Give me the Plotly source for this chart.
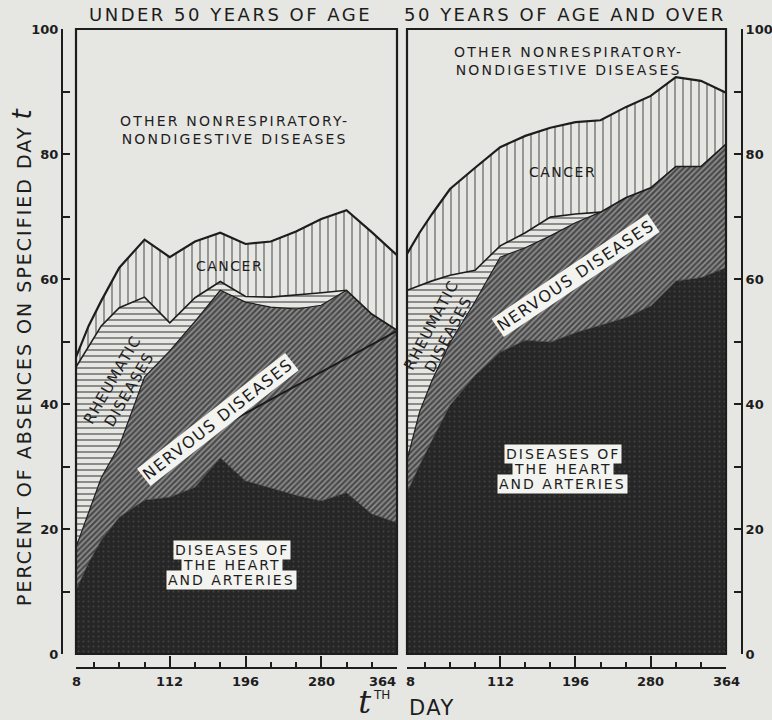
import plotly.graph_objects as go

# ---------------------------------------------------------------------------
# Data: percent of absences on specified day t, stacked by cause of disability
# ---------------------------------------------------------------------------
days = [8, 22, 36, 56, 84, 112, 140, 168, 196, 224, 252, 280, 308, 336, 364]

# Under 50 years of age
under50_heart = [10.2, 14.6, 18.2, 21.9, 24.6, 25.1, 26.7, 31.4, 27.7, 26.6, 25.4, 24.5, 25.8, 22.4, 21.0]
under50_nervous = [6.9, 8.1, 10.0, 11.4, 19.7, 23.4, 26.5, 26.8, 28.6, 28.9, 29.8, 31.3, 32.4, 32.0, 30.8]
under50_rheumatic = [28.8, 26.4, 24.3, 22.1, 12.8, 4.5, 3.8, 1.4, 0.9, 1.6, 2.2, 2.0, 0.0, 0.0, 0.0]
under50_cancer = [1.6, 3.4, 4.0, 6.4, 9.2, 10.5, 9.0, 7.8, 8.4, 8.9, 10.2, 11.8, 12.8, 13.1, 12.0]

# 50 years of age and over
over50_heart = [25.8, 30.2, 34.2, 39.8, 44.6, 48.3, 50.2, 49.9, 51.4, 52.6, 53.8, 55.7, 59.7, 60.2, 61.8]
over50_nervous = [5.2, 8.5, 9.6, 10.0, 11.8, 15.2, 14.8, 17.0, 17.6, 18.1, 19.2, 18.9, 18.3, 17.8, 19.8]
over50_rheumatic = [27.2, 20.3, 15.9, 10.8, 5.0, 1.8, 2.4, 3.0, 1.4, 0.0, 0.0, 0.0, 0.0, 0.0, 0.0]
over50_cancer = [5.8, 8.4, 10.7, 13.8, 16.4, 15.8, 15.5, 14.3, 14.7, 14.7, 14.5, 14.7, 14.3, 13.7, 8.2]

# Dividing line drawn through the nervous-diseases band (under 50 panel)
nervous_divider_days = [90, 364]
nervous_divider_vals = [30.2, 51.7]

causes = ["heart", "nervous", "rheumatic", "cancer"]
x_major = [8, 112, 196, 280, 364]
x_minor = [28, 56, 84, 140, 168, 224, 252, 308, 336]
y_major = [0, 20, 40, 60, 80, 100]
y_minor = [10, 30, 50, 70, 90]

panel_titles = ["UNDER 50 YEARS OF AGE", "50 YEARS OF AGE AND OVER"]

# ---------------------------------------------------------------------------
W, H = 772, 720
PAPER = "#e6e6e3"
INK = "#1d1d1d"
FONT = "DejaVu Sans"


def fx(px):
    return px / W


def fy(py):
    return 1 - py / H


def spaced(text, ls):
    """Widen the lettering of each line of a label."""
    return "<br>".join(
        f"<span style='letter-spacing:{ls}px'>{line}</span>" for line in text.split("<br>")
    )


styles = {
    "heart": dict(
        fillpattern=dict(shape=".", fgcolor="#5e5e5e", bgcolor="#262626", size=5, solidity=0.12),
        fillcolor="#262626",
        line=dict(width=0.6, color="#262626"),
    ),
    "nervous": dict(
        fillpattern=dict(shape="/", fgcolor="#dadada", bgcolor="#4a4a4a", size=4, solidity=0.38),
        fillcolor="#707070",
        line=dict(width=1.2, color=INK),
    ),
    "rheumatic": dict(
        fillpattern=dict(shape="-", fgcolor=INK, bgcolor=PAPER, size=6, solidity=0.3),
        fillcolor=PAPER,
        line=dict(width=1.6, color=INK),
    ),
    "cancer": dict(
        fillpattern=dict(shape="|", fgcolor=INK, bgcolor=PAPER, size=8, solidity=0.2),
        fillcolor=PAPER,
        line=dict(width=2.2, color=INK),
    ),
}

panels = [
    dict(xa="x", ya="y", values=[under50_heart, under50_nervous, under50_rheumatic, under50_cancer]),
    dict(xa="x2", ya="y2", values=[over50_heart, over50_nervous, over50_rheumatic, over50_cancer]),
]

fig = go.Figure()

for i, p in enumerate(panels):
    for cause, vals in zip(causes, p["values"]):
        st = styles[cause]
        fig.add_trace(
            go.Scatter(
                x=days,
                y=vals,
                mode="lines",
                stackgroup=f"panel{i}",
                xaxis=p["xa"],
                yaxis=p["ya"],
                line=st["line"],
                fillcolor=st["fillcolor"],
                fillpattern=st["fillpattern"],
                hoverinfo="skip",
                showlegend=False,
                name=cause,
            )
        )

fig.add_trace(
    go.Scatter(
        x=nervous_divider_days,
        y=nervous_divider_vals,
        mode="lines",
        line=dict(width=2, color="#1a1a1a"),
        xaxis="x",
        yaxis="y",
        hoverinfo="skip",
        showlegend=False,
    )
)

tickfont = dict(family=FONT, size=13, color=INK, weight="bold")


def x_axis(left_px, right_px):
    return dict(
        domain=[fx(left_px), fx(right_px)],
        range=[8, 364],
        anchor="free",
        position=fy(668),
        automargin=False,
        showgrid=False,
        zeroline=False,
        showline=True,
        linewidth=2,
        linecolor=INK,
        ticks="inside",
        ticklen=11,
        tickwidth=2,
        tickcolor=INK,
        tickvals=x_major,
        showticklabels=False,
        minor=dict(tickvals=x_minor, ticks="inside", ticklen=5, tickwidth=2, tickcolor=INK),
        fixedrange=True,
    )


def y_axis(pos_px, side):
    return dict(
        domain=[fy(654), fy(29)],
        range=[0, 100],
        anchor="free",
        position=fx(pos_px),
        side=side,
        automargin=False,
        showgrid=False,
        zeroline=False,
        showline=True,
        linewidth=2,
        linecolor=INK,
        ticks="inside",
        ticklen=7,
        tickwidth=2,
        tickcolor=INK,
        tickvals=y_major,
        ticktext=[str(v) for v in y_major],
        tickfont=tickfont,
        minor=dict(tickvals=y_minor, ticks="inside", ticklen=7, tickwidth=2, tickcolor=INK),
        fixedrange=True,
    )


fig.update_layout(
    width=W,
    height=H,
    autosize=False,
    margin=dict(l=0, r=0, t=0, b=0, pad=0, autoexpand=False),
    paper_bgcolor=PAPER,
    plot_bgcolor=PAPER,
    xaxis=x_axis(76, 397),
    xaxis2=x_axis(407, 726),
    yaxis=y_axis(62, "left"),
    yaxis2=y_axis(742, "right"),
    showlegend=False,
)

# Panel frames
for xr, yr in [("x domain", "y domain"), ("x2 domain", "y2 domain")]:
    fig.add_shape(
        type="rect", xref=xr, yref=yr, x0=0, x1=1, y0=0, y1=1,
        line=dict(color=INK, width=2.2), fillcolor="rgba(0,0,0,0)", layer="above",
    )

ann = []

# Day labels under each panel's time axis (the end labels are nudged apart
# where the two panels meet)
for xa, nudge in [("x", {364: -15}), ("x2", {8: 3})]:
    for v in x_major:
        ann.append(dict(
            text=str(v), x=v, y=fy(681), xref=xa, yref="paper", showarrow=False,
            xshift=nudge.get(v, 0), font=tickfont, xanchor="center", yanchor="middle",
        ))


def label(text, x, y, xref, yref, size=14, angle=0, boxed=False, ls=1.5, color=INK):
    a = dict(
        text=spaced(text, ls), x=x, y=y, xref=xref, yref=yref, showarrow=False,
        font=dict(family=FONT, size=size, color=color),
        textangle=angle, xanchor="center", yanchor="middle",
    )
    if boxed:
        a.update(bgcolor="#f3f3f0", borderpad=1)
    ann.append(a)


# Panel headings
label(panel_titles[0], fx(230), fy(14), "paper", "paper", size=18, ls=2.5)
label(panel_titles[1], fx(565), fy(14), "paper", "paper", size=18, ls=2.5)

# Vertical axis title
ann.append(dict(
    text=spaced("PERCENT OF ABSENCES ON SPECIFIED DAY", 2.0)
    + " <span style='font-size:26px'><i>t</i></span>&nbsp;",
    x=fx(22), y=fy(355), xref="paper", yref="paper", showarrow=False,
    font=dict(family=FONT, size=19, color=INK), textangle=-90,
    xanchor="center", yanchor="middle",
))

# Time axis title: t-th day
ann.append(dict(
    text="&nbsp;<i>t</i>&nbsp;", x=fx(364), y=fy(702), xref="paper", yref="paper",
    showarrow=False, font=dict(family="DejaVu Serif", size=32, color=INK),
    xanchor="center", yanchor="middle",
))
ann.append(dict(
    text="TH", x=fx(381), y=fy(695), xref="paper", yref="paper", showarrow=False,
    font=dict(family=FONT, size=12, color=INK), xanchor="center", yanchor="middle",
))
ann.append(dict(
    text=spaced("DAY", 1.5), x=fx(432), y=fy(708), xref="paper", yref="paper",
    showarrow=False, font=dict(family=FONT, size=21, color=INK),
    xanchor="center", yanchor="middle",
))

# Under 50 panel labels
label("OTHER NONRESPIRATORY-<br>NONDIGESTIVE DISEASES", 184, 83.8, "x", "y", size=14, ls=2.2)
label("CANCER", 178, 62.1, "x", "y", size=14, ls=1.5)
label("RHEUMATIC<br>DISEASES", 58, 43.0, "x", "y", size=15, angle=-60, ls=1.2)
label("NERVOUS DISEASES", 165, 37.6, "x", "y", size=16, angle=-38, boxed=True, ls=1.5)
label("DISEASES OF", 181, 16.6, "x", "y", size=14, boxed=True, ls=2)
label("THE HEART", 181, 14.2, "x", "y", size=14, boxed=True, ls=2)
label("AND ARTERIES", 181, 11.8, "x", "y", size=14, boxed=True, ls=2)

# 50 and over panel labels
label("OTHER NONRESPIRATORY-<br>NONDIGESTIVE DISEASES", 188, 94.8, "x2", "y2", size=14, ls=2.2)
label("CANCER", 181, 77.1, "x2", "y2", size=14, ls=1.5)
label("RHEUMATIC<br>DISEASES", 45, 51.8, "x2", "y2", size=15, angle=-62, ls=1.2)
label("NERVOUS DISEASES", 196, 60.6, "x2", "y2", size=16, angle=-34, boxed=True, ls=1.5)
label("DISEASES OF", 182, 32.0, "x2", "y2", size=14, boxed=True, ls=2)
label("THE HEART", 182, 29.6, "x2", "y2", size=14, boxed=True, ls=2)
label("AND ARTERIES", 182, 27.2, "x2", "y2", size=14, boxed=True, ls=2)

fig.update_layout(annotations=ann)

fig.write_html("out.html")
